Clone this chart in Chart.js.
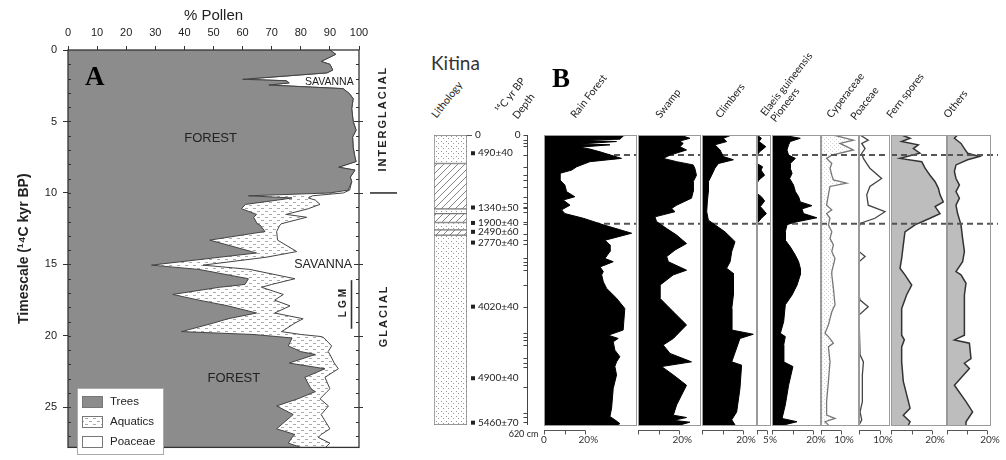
<!DOCTYPE html>
<html>
<head>
<meta charset="utf-8">
<script src="https://cdn.jsdelivr.net/npm/chart.js@4.4.1/dist/chart.umd.min.js"></script>
<style>
  body { margin: 0; background: #fff; }
  #page { position: relative; width: 1006px; height: 460px; overflow: hidden; background: #fff; }
  canvas { position: absolute; }
  .hdr { position: absolute; font: 10.5px Lato, sans-serif; color: #222; line-height: 11px; height: 11px;
         white-space: nowrap; transform-origin: 0 100%; transform: rotate(-52deg); }
  .panel { position: absolute; font: bold 27px "Liberation Serif", serif; color: #000; line-height: 1; }
</style>
</head>
<body>
<div id="page">
  <canvas id="chartA" width="420" height="460" style="left:0;top:0"></canvas>
  <canvas id="litho" width="125" height="330" style="left:425px;top:120px"></canvas>

  <div class="panel" style="left:85px;top:63px">A</div>
  <div class="panel" style="left:552px;top:65px">B</div>
  <div style="position:absolute;left:431px;top:53px;font:19px Lato,sans-serif;color:#333;line-height:1">Kitina</div>

  <div class="hdr" style="left:438px;top:109px">Lithology</div>
  <div class="hdr" style="left:502px;top:104px">¹⁴C yr BP</div>
  <div class="hdr" style="left:519px;top:110px">Depth</div>
  <div class="hdr" style="left:577px;top:109px">Rain Forest</div>
  <div class="hdr" style="left:662px;top:109px">Swamp</div>
  <div class="hdr" style="left:722px;top:109px">Climbers</div>
  <div class="hdr" style="left:767px;top:107px">Elaeis guineensis</div>
  <div class="hdr" style="left:777px;top:113px">Pioneers</div>
  <div class="hdr" style="left:833px;top:109px">Cyperaceae</div>
  <div class="hdr" style="left:857px;top:111px">Poaceae</div>
  <div class="hdr" style="left:893px;top:109px">Fern spores</div>
  <div class="hdr" style="left:950px;top:109px">Others</div>
</div>

<script>
// ---------- Panel A: % pollen against age (14C kyr BP)
const ages = [0, 0.3, 0.8, 1.0, 1.4, 1.6, 2.05, 2.15, 2.3, 2.45, 2.6, 2.7, 3.05, 3.4, 4.1, 5.0, 5.6, 6.1, 6.8, 7.5,
  7.8, 8.2, 8.4, 8.9, 9.2, 9.8, 10.0, 10.2, 10.35, 10.5, 10.8, 11.1, 11.5, 11.7, 12.15, 12.25, 12.7, 13.3, 14.1, 14.2,
  14.5, 15.05, 15.35, 16.0, 16.4, 16.6, 17.1, 17.5, 17.9, 18.4, 18.8, 19.1, 19.7, 19.9, 20.05, 20.15, 20.7, 21.1, 21.3,
  21.9, 22.3, 22.9, 23.7, 23.9, 24.4, 24.9, 25.5, 26.5, 26.9, 27.1, 27.5, 27.8];
const trees = [90, 92, 87, 90, 91, 89, 60, 75, 76, 69, 84, 94.5, 96.7, 98, 97.5, 98, 99, 97.8, 98, 98.6,
  99, 93, 98.6, 97, 97.5, 96.3, 90, 62, 77, 72, 61, 59.6, 64.8, 63.8, 65, 66, 67.7, 48.7, 63, 64.8,
  52, 28.7, 45, 62, 60.8, 52, 36, 45, 55, 64.8, 55, 50, 39, 63.6, 72, 77, 75.7, 80, 85,
  76, 88.3, 81.4, 83.5, 85, 79, 71.7, 77.4, 71.7, 78, 77, 75.7, 80];
const aquatics = [0, 0, 0, 0, 0, 0, 0, 0, 0, 0, 0, 0, 0, 0, 0, 0, 0, 0, 0, 0,
  0, 0, 0, 0, 0, 0.5, 4.6, 22, 5.6, 13, 25.6, 23, 10.2, 18.2, 8.4, 6.8, 4, 23.3, 15.6, 11.2,
  16, 17.7, 17.5, 16, 9.2, 14.5, 38, 26, 21.3, 6.2, 25.8, 28, 34.4, 16.4, 15.2, 11, 14.9, 9.4, 5,
  15.5, 4.6, 6.9, 6.5, 4, 7.6, 17.8, 9.6, 18.3, 9, 9, 14.3, 8.5];

// ---------- Panel B: Kitina core, [depth cm, %]
const rainForest = [[0,40],[2,38.4],[9,36.7],[11,17.4],[14,35.1],[19,17.4],[21,31.9],[26,17.4],[30,22.2],[36,27.1],
  [50,37.5],[57,22.2],[68,15.8],[75,13.4],[82,7.7],[96,7.7],[107,10.1],[121,10.9],[132,14.9],[139,9.3],[150,12.6],
  [160,8.5],[168,10.1],[178,19],[192,28.7],[210,42.4],[225,29.5],[235,31.9],[249,31.9],[264,29.5],[271,33.5],
  [282,27.1],[292,28.7],[299,27.9],[314,28.7],[328,30.3],[349,35.1],[371,39.1],[417,38.3],[428,31.1],[435,35.9],
  [442,33.5],[460,34.3],[474,36.7],[485,35.1],[495,34.3],[513,35.1],[542,33.5],[584,32.7],[602,31.9],[609,34.3],
  [617,36.7],[620,35.9]];
const swamp = [[0,20.3],[7,25.1],[13,20.3],[18,21.9],[25,20.3],[32,23.5],[43,15.5],[50,12.2],[57,18.7],[64,26.7],
  [71,27.5],[86,28.3],[100,26.7],[121,26.7],[135,25.9],[150,18.7],[157,16.3],[164,17.9],[175,8.2],[185,9],[200,13.9],
  [214,18.7],[232,23.5],[246,17.9],[260,13.9],[271,14.7],[289,23.5],[299,17.1],[321,10.6],[349,10.6],[378,17.1],
  [406,23.5],[435,17.1],[449,12.2],[467,15.5],[485,25.9],[495,11.4],[513,17.1],[535,23.5],[556,21.1],[577,18.7],
  [599,17.1],[604,23.5],[610,17.1],[614,25.1],[620,20.3]];
const climbers = [[0,14.5],[7,10.4],[14,12],[21,6.3],[32,8.8],[46,10.4],[53,15.3],[61,8],[71,6.3],[86,4.7],[100,3.1],
  [121,3.1],[143,2.6],[164,2.3],[182,3.1],[192,6.3],[207,11.2],[228,16.1],[249,14.5],[271,13.7],[285,12],[296,15.3],
  [342,15.3],[371,14.5],[417,14.5],[426,25],[435,18.5],[485,14.5],[492,19.3],[542,18.5],[592,16.9],[609,14.5],[620,16.1]];
const elaeis = [[0,0],[7,2.2],[14,1],[25,4.4],[36,1.3],[43,0],[61,0],[68,2.8],[75,2],[86,3.8],[96,1],[103,0],[125,0],
  [132,2.2],[141,3.8],[153,1.7],[168,4.7],[178,2.2],[189,0],[620,0]];
const pioneers = [[0,4.9],[7,13.8],[14,8.9],[21,8.1],[32,7.3],[43,8.1],[50,11.4],[61,8.9],[71,8.9],[82,9.8],[93,8.6],
  [107,10.5],[121,11.4],[132,13],[143,13.8],[151,19.5],[158,14.6],[168,15.4],[177,21.9],[187,10.5],[192,7.3],[207,6.5],
  [225,6.5],[239,8.9],[257,11.4],[271,13],[285,13.8],[299,13.8],[321,12.2],[342,9.8],[363,6.5],[399,5.7],[424,4.1],
  [431,6.5],[449,5.7],[485,5.7],[495,10.2],[535,8.1],[577,6.5],[606,4.9],[613,12.2],[620,5.7]];
const cyperaceae = [[0,6.2],[11,16.2],[18,9.5],[25,12.8],[32,16.2],[43,5.4],[50,2.8],[61,5.4],[71,4.5],[86,5.4],[96,6.2],
  [103,12.8],[110,4.5],[128,3.7],[150,2.8],[160,5.4],[168,2.8],[178,4.5],[192,3.7],[207,5.4],[221,4.5],[235,6.2],
  [249,5.4],[264,7],[278,6.2],[292,5.4],[299,5.4],[328,6.2],[363,7],[378,5.4],[406,3.7],[424,2],[431,3.7],[445,6.2],
  [453,3.7],[485,4.5],[527,3.7],[570,2.8],[599,2.8],[606,7],[613,2],[620,3.7]];
const poaceae = [[0,0.5],[11,4.4],[18,1.3],[29,2.9],[39,1.3],[50,2.1],[61,3.7],[71,5.2],[93,10.8],[110,5.2],[128,3.7],
  [150,4.4],[164,12.4],[178,7.6],[189,0.5],[200,0],[249,0],[260,2.9],[271,0],[342,0],[353,0.5],[367,4.4],[385,0],
  [470,0.5],[485,2.1],[513,1.6],[570,1.6],[592,0.5],[609,1.3],[620,0]];
const fernSpores = [[0,5.2],[7,9.3],[14,5.2],[21,13.3],[29,10.9],[39,14.1],[50,4.4],[57,15],[71,16.6],[86,19],[100,21.5],
  [114,23.1],[128,23.9],[143,25.5],[153,21.5],[168,23.9],[178,19],[192,11.7],[207,6.8],[235,6],[264,5.2],[285,4.4],
  [299,6.8],[321,10.1],[342,7.6],[371,5.2],[428,5.2],[438,6.5],[453,5.2],[485,5.2],[527,6],[584,9.3],[599,6],[613,9.3],
  [620,8.5]];
const others = [[0,5.3],[7,3.7],[18,7],[29,8.7],[39,10.3],[46,16.2],[53,10.3],[64,4.5],[78,3.7],[93,4.5],[107,6.2],
  [121,4.5],[135,6.2],[150,4.5],[168,5.3],[192,7],[221,7.8],[249,8.7],[271,7.8],[292,4.5],[299,7],[317,9.5],[342,8.7],
  [371,8.7],[428,8.7],[438,3.7],[445,11.2],[478,12],[488,8.7],[499,11.2],[535,3.7],[570,9.5],[592,12.8],[613,9.5],
  [620,9.5]];
const zoneDepths = [43, 190];

const lithoTop  = [0, 61, 158, 168, 187, 203, 214];
const lithoBase = [61, 158, 168, 187, 203, 214, 620];
const lithoType = ['sand', 'hatch', 'sand', 'hatch', 'sand', 'hatch', 'sand'];
const dateLabels = ['490±40', '1340±50', '1900±40', '2490±60', '2770±40', '4020±40', '4900±40', '5460±70'];
const dateDepths = [39, 155, 188, 207, 230, 367, 520, 615];
const sampleDepths = [0, 11, 18, 24, 43, 68, 86, 96, 111, 132, 146, 153, 157, 164, 185, 191, 212, 224, 232, 264, 271,
  278, 289, 321, 367, 424, 431, 438, 449, 477, 488, 495, 538, 595, 602, 613];

Chart.defaults.font.family = '"Liberation Sans", Arial, sans-serif';
Chart.defaults.color = '#222';

function makePattern(w, h, draw) {
  const c = document.createElement('canvas');
  c.width = w; c.height = h;
  const g = c.getContext('2d');
  g.fillStyle = '#fff';
  g.fillRect(0, 0, w, h);
  draw(g);
  return g.createPattern(c, 'repeat');
}
const aquaPattern = makePattern(8, 6, g => {
  g.fillStyle = '#aaa';
  g.fillRect(1, 1, 3, 1);
  g.fillRect(5, 4, 3, 1);
});
const sandPattern = makePattern(5, 5, g => {
  g.fillStyle = '#999';
  g.fillRect(1, 1, 1, 1);
  g.fillRect(3, 3, 1, 1);
});
const hatchPattern = makePattern(7, 7, g => {
  g.strokeStyle = '#666';
  g.lineWidth = 0.8;
  g.beginPath(); g.moveTo(0, 7); g.lineTo(7, 0); g.stroke();
  g.beginPath(); g.moveTo(-1, 1); g.lineTo(1, -1); g.stroke();
  g.beginPath(); g.moveTo(6, 8); g.lineTo(8, 6); g.stroke();
});
const cypPattern = makePattern(4, 4, g => {
  g.fillStyle = '#d4d4d4';
  g.fillRect(1, 1, 1, 1);
  g.fillRect(3, 3, 1, 1);
});

// ---------- Panel A
const panelADecor = {
  id: 'panelADecor',
  afterDraw(chart) {
    const {ctx, chartArea: a, scales: {x, y}} = chart;
    const seg = (x1, y1, x2, y2) => { ctx.beginPath(); ctx.moveTo(x1, y1); ctx.lineTo(x2, y2); ctx.stroke(); };
    ctx.save();
    ctx.strokeStyle = '#333';
    ctx.lineWidth = 1.3;
    ctx.strokeRect(a.left, a.top, a.right - a.left, a.bottom - a.top);
    ctx.lineWidth = 1;
    for (let k = 1; k < 28; k++) {
      const py = Math.round(y.getPixelForValue(k)) + 0.5;
      const major = k % 5 === 0;
      seg(a.left, py, a.left + 3, py);
      seg(a.right - (major ? 5 : 3), py, a.right + (major ? 4 : 0), py);
    }

    ctx.fillStyle = '#222';
    ctx.textAlign = 'center';
    ctx.textBaseline = 'middle';
    ctx.font = '13px "Liberation Sans"';
    ctx.fillText('FOREST', x.getPixelForValue(49), y.getPixelForValue(6.2));
    ctx.fillText('FOREST', x.getPixelForValue(57), y.getPixelForValue(23));
    ctx.font = '12.5px "Liberation Sans"';
    ctx.fillText('SAVANNA', x.getPixelForValue(87.7), y.getPixelForValue(15));
    ctx.font = '10.5px "Liberation Sans"';
    ctx.fillText('SAVANNA', x.getPixelForValue(89.8), y.getPixelForValue(2.25));

    const vtext = (t, cx, cy, font, spacing) => {
      ctx.save();
      ctx.translate(cx, cy);
      ctx.rotate(-Math.PI / 2);
      ctx.font = font;
      ctx.letterSpacing = spacing;
      ctx.fillText(t, 0, 0);
      ctx.restore();
    };
    vtext('INTERGLACIAL', a.right + 24, y.getPixelForValue(4.8), 'bold 11px "Liberation Sans"', '2px');
    vtext('GLACIAL', a.right + 25, y.getPixelForValue(18.6), 'bold 11px "Liberation Sans"', '2px');
    vtext('LGM', a.right - 16, y.getPixelForValue(17.6), 'bold 10px "Liberation Sans"', '3px');
    ctx.lineWidth = 1.6;
    seg(a.right - 7.5, y.getPixelForValue(16.1), a.right - 7.5, y.getPixelForValue(19.5));
    seg(a.right + 11, y.getPixelForValue(10), a.right + 38, y.getPixelForValue(10));

    // legend
    const lx = 77, ly = 388;
    ctx.fillStyle = '#fff';
    ctx.fillRect(lx, ly, 86, 66);
    ctx.strokeStyle = '#aaa';
    ctx.lineWidth = 1;
    ctx.strokeRect(lx + 0.5, ly + 0.5, 86, 66);
    const items = [['Trees', chart.data.datasets[0].backgroundColor],
                   ['Aquatics', chart.data.datasets[1].backgroundColor],
                   ['Poaceae', '#fff']];
    ctx.textAlign = 'left';
    ctx.font = '11.5px "Liberation Sans"';
    items.forEach(([name, fill], i) => {
      const sy = ly + 8 + i * 20;
      ctx.fillStyle = fill;
      ctx.fillRect(lx + 5, sy, 20, 11);
      ctx.strokeStyle = '#777';
      ctx.strokeRect(lx + 5.5, sy + 0.5, 20, 11);
      ctx.fillStyle = '#222';
      ctx.fillText(name, lx + 33, sy + 6);
    });
    ctx.restore();
  }
};

new Chart(document.getElementById('chartA'), {
  type: 'line',
  data: {
    datasets: [
      { label: 'Trees', data: ages.map((a, i) => ({x: trees[i], y: a})), fill: 'origin',
        backgroundColor: '#8c8c8c', borderColor: '#444', borderWidth: 1, pointRadius: 0, tension: 0 },
      { label: 'Aquatics', data: ages.map((a, i) => ({x: trees[i] + aquatics[i], y: a})), fill: '-1',
        backgroundColor: aquaPattern, borderColor: '#444', borderWidth: 1, pointRadius: 0, tension: 0 }
    ]
  },
  options: {
    indexAxis: 'y',
    responsive: false,
    animation: false,
    events: [],
    layout: { padding: { left: 0, right: 61, top: 0, bottom: 2 } },
    scales: {
      x: {
        type: 'linear', position: 'top', min: 0, max: 100,
        ticks: { stepSize: 10, font: { size: 11 }, padding: 6 },
        grid: { drawOnChartArea: false, tickLength: 4, color: '#333' },
        border: { display: false },
        title: { display: true, text: '% Pollen', font: { size: 15 }, padding: { top: 7, bottom: 0 } },
        afterFit(s) { s.height = 50; }
      },
      y: {
        type: 'linear', reverse: true, min: 0, max: 27.8,
        ticks: { stepSize: 5, includeBounds: false, font: { size: 11 }, padding: 6,
                 callback: v => (v % 5 === 0 ? v : '') },
        grid: { drawOnChartArea: false, tickLength: 5, color: '#333' },
        border: { display: false },
        title: { display: true, text: 'Timescale (¹⁴C kyr BP)', font: { size: 14, weight: 'bold' },
                 padding: { top: 16, bottom: 0 } },
        afterFit(s) { s.width = 68; }
      }
    },
    plugins: { legend: { display: false }, tooltip: { enabled: false } }
  },
  plugins: [panelADecor]
});

// ---------- Panel B: lithology, dates and depth axis
const lithoDecor = {
  id: 'lithoDecor',
  afterDraw(chart) {
    const {ctx, chartArea: a, scales: {y}} = chart;
    const seg = (x1, y1, x2, y2) => { ctx.beginPath(); ctx.moveTo(x1, y1); ctx.lineTo(x2, y2); ctx.stroke(); };
    ctx.save();
    ctx.strokeStyle = '#555';
    ctx.lineWidth = 1;
    ctx.fillStyle = '#222';
    ctx.font = '10px Lato';
    ctx.textBaseline = 'middle';
    seg(a.right, a.top + 0.5, a.right + 5, a.top + 0.5);
    ctx.fillText('0', a.right + 8, a.top);
    dateLabels.forEach((t, i) => {
      const py = y.getPixelForValue(dateDepths[i]);
      ctx.fillRect(a.right + 4, py - 2, 4, 4);
      ctx.fillText(t, a.right + 11, py);
    });
    const ax = a.right + 60.5;
    ctx.strokeStyle = '#444';
    seg(ax, y.getPixelForValue(0), ax, y.getPixelForValue(620));
    sampleDepths.forEach(d => {
      const py = Math.round(y.getPixelForValue(d)) + 0.5;
      seg(ax - 4, py, ax, py);
    });
    ctx.textAlign = 'right';
    ctx.fillText('0', ax - 7, a.top);
    ctx.textAlign = 'center';
    ctx.font = '9px Lato';
    ctx.fillText('620 cm', ax - 4, a.bottom + 9);
    ctx.restore();
  }
};

new Chart(document.getElementById('litho'), {
  type: 'bar',
  data: {
    labels: ['Lithology'],
    datasets: lithoTop.map((t, i) => ({
      data: [[t, lithoBase[i]]],
      backgroundColor: lithoType[i] === 'hatch' ? hatchPattern : sandPattern,
      borderColor: '#777', borderWidth: 1, borderSkipped: false,
      grouped: false, barPercentage: 1, categoryPercentage: 1
    }))
  },
  options: {
    responsive: false,
    animation: false,
    events: [],
    layout: { padding: { left: 9, right: 83, top: 15, bottom: 25 } },
    scales: {
      x: { display: false },
      y: { type: 'linear', min: 0, max: 620, reverse: true, display: false }
    },
    plugins: { legend: { display: false }, tooltip: { enabled: false } }
  },
  plugins: [lithoDecor]
});

// ---------- Panel B: pollen curves
const looks = {
  black: { fill: '#000', line: '#000', width: 1 },
  dots:  { fill: cypPattern, line: '#777', width: 1.3 },
  line:  { fill: null, line: '#444', width: 1.3 },
  grey:  { fill: '#bdbdbd', line: '#333', width: 1.5 }
};
const columns = [
  { left: 544, width: 93, max: 45,   pts: rainForest, look: 'black', bar: [0, 10, 20], label: '20%', zero: true },
  { left: 638, width: 63, max: 30.5, pts: swamp,      look: 'black', bar: [0, 10, 20], label: '20%' },
  { left: 702, width: 55, max: 26.8, pts: climbers,   look: 'black', bar: [0, 10, 20], label: '20%' },
  { left: 757, width: 14, max: 7,    pts: elaeis,     look: 'black', bar: [0, 5],      label: '5%' },
  { left: 772, width: 49, max: 23.9, pts: pioneers,   look: 'black', bar: [0, 10, 20], label: '20%' },
  { left: 821, width: 38, max: 19,   pts: cyperaceae, look: 'dots',  bar: [0, 10],     label: '10%' },
  { left: 859, width: 31, max: 14.8, pts: poaceae,    look: 'line',  bar: [0, 10],     label: '10%' },
  { left: 891, width: 56, max: 27.3, pts: fernSpores, look: 'grey',  bar: [0, 10, 20], label: '20%' },
  { left: 947, width: 44, max: 22,   pts: others,     look: 'grey',  bar: [0, 10, 20], label: '20%', extend: 7 }
];

function zoneLines(chart, col) {
  const {ctx, chartArea: a, scales: {y}} = chart;
  ctx.save();
  ctx.strokeStyle = '#555';
  ctx.lineWidth = 2;
  ctx.setLineDash([6, 4]);
  zoneDepths.forEach(d => {
    const py = y.getPixelForValue(d);
    ctx.beginPath();
    ctx.moveTo(a.left, py);
    ctx.lineTo(a.right + (col.extend || 0), py);
    ctx.stroke();
  });
  ctx.restore();
}

function columnDecor(col) {
  return {
    id: 'columnDecor',
    beforeDatasetsDraw(chart) { if (col.look === 'black') zoneLines(chart, col); },
    afterDatasetsDraw(chart) {
      const {ctx, chartArea: a, scales: {x}} = chart;
      if (col.look !== 'black') zoneLines(chart, col);
      ctx.save();
      ctx.strokeStyle = '#9a9a9a';
      ctx.lineWidth = 1;
      ctx.strokeRect(a.left + 0.5, a.top + 0.5, a.right - a.left - 1, a.bottom - a.top);
      // scale bar under the column
      const by = a.bottom + 5.5;
      const x0 = x.getPixelForValue(col.bar[0]);
      const x1 = x.getPixelForValue(col.bar[col.bar.length - 1]);
      ctx.strokeStyle = '#555';
      ctx.beginPath(); ctx.moveTo(x0, by); ctx.lineTo(x1, by); ctx.stroke();
      col.bar.forEach(v => {
        const px = Math.round(x.getPixelForValue(v)) + 0.5;
        ctx.beginPath(); ctx.moveTo(px, by); ctx.lineTo(px, by + 4); ctx.stroke();
      });
      ctx.fillStyle = '#333';
      ctx.font = '10px Lato';
      ctx.textAlign = 'center';
      ctx.textBaseline = 'middle';
      ctx.fillText(col.label, x1 + 3, a.bottom + 15);
      if (col.zero) ctx.fillText('0', x0, a.bottom + 15);
      ctx.restore();
    }
  };
}

const page = document.getElementById('page');
columns.forEach(col => {
  const cv = document.createElement('canvas');
  cv.width = col.width + 40;
  cv.height = 330;
  cv.style.left = (col.left - 20) + 'px';
  cv.style.top = '120px';
  page.insertBefore(cv, page.querySelector('.panel'));
  const look = looks[col.look];
  new Chart(cv, {
    type: 'line',
    data: {
      datasets: [{
        data: col.pts.map(p => ({x: p[1], y: p[0]})),
        fill: look.fill ? 'origin' : false,
        backgroundColor: look.fill || 'transparent',
        borderColor: look.line, borderWidth: look.width,
        pointRadius: 0, tension: 0
      }]
    },
    options: {
      indexAxis: 'y',
      responsive: false,
      animation: false,
      events: [],
      layout: { padding: { left: 20, right: 20, top: 15, bottom: 25 } },
      scales: {
        x: { type: 'linear', min: 0, max: col.max, display: false },
        y: { type: 'linear', min: 0, max: 620, reverse: true, display: false }
      },
      plugins: { legend: { display: false }, tooltip: { enabled: false } }
    },
    plugins: [columnDecor(col)]
  });
});
</script>
</body>
</html>
